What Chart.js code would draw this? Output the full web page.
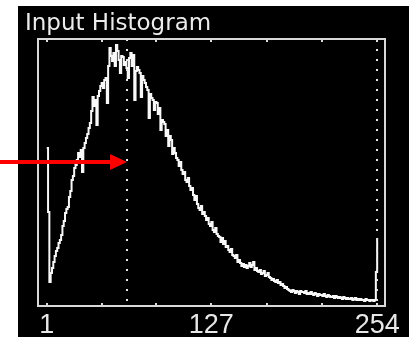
<!DOCTYPE html>
<html>
<head>
<meta charset="utf-8">
<script src="https://cdn.jsdelivr.net/npm/chart.js@4"></script>
<style>
  html, body { margin: 0; padding: 0; background: #fff; }
  #wrap { width: 409px; height: 337px; }
</style>
</head>
<body>
<div id="wrap"><canvas id="hist" width="409" height="337"></canvas></div>
<script>
"use strict";

const TITLE = "Input Histogram";
const FIRST_BIN = 1;

// counts per grey level 1..254
const counts = [
  1580, 940, 240, 330, 380, 440, 500, 550, 580, 630,
  660, 710, 800, 850, 930, 970, 990, 1090, 1150, 1260,
  1300, 1380, 1410, 1460, 1530, 1490, 1560, 1340, 1580, 1630,
  1680, 1720, 1780, 1830, 1950, 2090, 2000, 2060, 1810, 2100,
  2150, 2200, 2230, 2180, 2260, 2280, 2030, 2400, 2580, 2500,
  2450, 2530, 2400, 2610, 2550, 2460, 2330, 2500, 2490, 2410,
  2440, 2380, 2280, 2480, 2530, 2400, 2510, 2060, 2350, 2390,
  2360, 2330, 2090, 2300, 2260, 2230, 2190, 2160, 1880, 2120,
  2080, 2060, 1960, 2040, 2030, 1920, 1980, 1760, 1860, 1840,
  1820, 1700, 1760, 1600, 1700, 1660, 1520, 1580, 1530, 1480,
  1460, 1400, 1440, 1360, 1320, 1340, 1260, 1240, 1280, 1200,
  1160, 1180, 1110, 1060, 1100, 1020, 980, 960, 1000, 920,
  940, 900, 860, 880, 820, 800, 840, 760, 740, 780,
  720, 700, 690, 640, 680, 620, 650, 590, 600, 560,
  540, 570, 510, 500, 480, 510, 440, 460, 430, 400,
  420, 390, 410, 380, 400, 430, 390, 410, 440, 360,
  380, 350, 340, 360, 320, 330, 350, 300, 310, 330,
  290, 280, 260, 270, 250, 240, 260, 230, 240, 210,
  220, 200, 180, 190, 170, 160, 150, 140, 160, 150,
  130, 150, 140, 120, 150, 140, 140, 130, 150, 120,
  130, 120, 140, 120, 110, 130, 120, 100, 120, 110,
  110, 100, 120, 100, 90, 110, 100, 90, 90, 100,
  80, 100, 90, 80, 90, 80, 70, 90, 80, 70,
  80, 70, 70, 80, 60, 70, 80, 60, 70, 60,
  70, 60, 60, 50, 70, 60, 60, 50, 60, 60,
  50, 60, 340, 680
];

const tickValues = [1, 43, 85, 127, 170, 212, 254];
const tickLabels = ["1", "", "", "127", "", "", "254"];
const markerLines = [62.5, 254];   // dotted cursors
const arrowLevel = 1440;           // height the red arrow points at

const points = counts.map((c, i) => ({ x: FIRST_BIN + i, y: c }));

const frame = {
  id: "frame",
  beforeDraw(chart) {
    const ctx = chart.ctx;
    ctx.save();
    ctx.fillStyle = "#ffffff";
    ctx.fillRect(0, 0, chart.width, chart.height);
    ctx.fillStyle = "#000000";
    ctx.fillRect(18, 6, chart.width - 18, chart.height - 6);
    ctx.restore();
  },
  afterDraw(chart) {
    const ctx = chart.ctx;
    const area = chart.chartArea;
    const xs = chart.scales.x;
    const ys = chart.scales.y;
    ctx.save();

    // dotted cursors
    ctx.strokeStyle = "#e6e6e6";
    ctx.lineWidth = 2;
    ctx.setLineDash([2, 8]);
    markerLines.forEach((v) => {
      const px = Math.round(xs.getPixelForValue(v));
      ctx.beginPath();
      ctx.moveTo(px, area.top);
      ctx.lineTo(px, area.bottom);
      ctx.stroke();
    });
    ctx.setLineDash([]);

    // box
    ctx.strokeStyle = "#d9d9d9";
    ctx.lineWidth = 2;
    ctx.strokeRect(area.left, area.top, area.right - area.left, area.bottom - area.top);

    // inward ticks, top and bottom
    ctx.lineWidth = 2;
    tickValues.forEach((v) => {
      const px = Math.round(xs.getPixelForValue(v));
      ctx.beginPath();
      ctx.moveTo(px, area.top);
      ctx.lineTo(px, area.top + 3);
      ctx.moveTo(px, area.bottom);
      ctx.lineTo(px, area.bottom - 3);
      ctx.stroke();
    });

    // tick labels
    ctx.fillStyle = "#e8e8e8";
    ctx.font = "27px 'Liberation Sans', Arial, sans-serif";
    ctx.textAlign = "center";
    ctx.textBaseline = "alphabetic";
    tickValues.forEach((v, i) => {
      if (!tickLabels[i]) return;
      ctx.fillText(tickLabels[i], xs.getPixelForValue(v), 333);
    });

    // title
    ctx.font = "23px 'DejaVu Sans', sans-serif";
    ctx.textAlign = "left";
    ctx.fillStyle = "#ececec";
    ctx.fillText(TITLE, 25, 30);

    // red arrow towards the first cursor
    const tipX = xs.getPixelForValue(markerLines[0]);
    const tipY = Math.round(ys.getPixelForValue(arrowLevel));
    ctx.fillStyle = "#ff0000";
    ctx.fillRect(0, tipY - 2, tipX - 16, 4);
    ctx.beginPath();
    ctx.moveTo(tipX, tipY);
    ctx.lineTo(tipX - 17, tipY - 8);
    ctx.lineTo(tipX - 17, tipY + 8);
    ctx.closePath();
    ctx.fill();

    ctx.restore();
  },
};

new Chart(document.getElementById("hist"), {
  type: "line",
  data: {
    datasets: [
      {
        label: TITLE,
        data: points,
        borderColor: "#f8f8f8",
        borderWidth: 2,
        pointRadius: 0,
        stepped: true,
        fill: false,
      },
    ],
  },
  options: {
    responsive: false,
    animation: false,
    events: [],
    layout: { padding: { left: 38, top: 39, right: 24, bottom: 31 } },
    plugins: {
      legend: { display: false },
      tooltip: { enabled: false },
    },
    scales: {
      x: { type: "linear", min: -5.7, max: 260, display: false },
      y: { min: 0, max: 2670, display: false },
    },
  },
  plugins: [frame],
});
</script>
</body>
</html>
